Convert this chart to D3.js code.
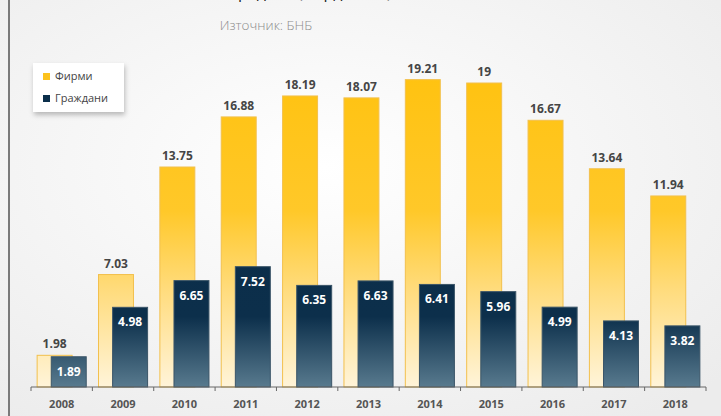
<!DOCTYPE html>
<html>
<head>
<meta charset="utf-8">
<script src="https://cdn.jsdelivr.net/npm/d3@7"></script>
<style>
  html, body { margin: 0; padding: 0; background: #fff; }
  svg { display: block; font-family: "Open Sans", "Noto Sans", sans-serif; }
</style>
</head>
<body>
<svg id="chart" width="721" height="416"></svg>
<script>
const years = ["2008","2009","2010","2011","2012","2013","2014","2015","2016","2017","2018"];
const firms = [1.98, 7.03, 13.75, 16.88, 18.19, 18.07, 19.21, 19, 16.67, 13.64, 11.94];
const citizens = [1.89, 4.98, 6.65, 7.52, 6.35, 6.63, 6.41, 5.96, 4.99, 4.13, 3.82];
const seriesNames = ["Фирми", "Граждани"];
const titleText = "Кредити (млрд. лева)";
const sourceText = "Източник: БНБ";

const W = 721, H = 416;
const svg = d3.select("#chart");
const defs = svg.append("defs");

// background
const bg = defs.append("radialGradient").attr("id", "bgGrad")
  .attr("cx", "45%").attr("cy", "40%").attr("r", "75%");
bg.append("stop").attr("offset", "0%").attr("stop-color", "#ffffff");
bg.append("stop").attr("offset", "100%").attr("stop-color", "#ececec");
svg.append("rect").attr("width", W).attr("height", H).attr("fill", "url(#bgGrad)");
svg.append("line").attr("x1", 9).attr("x2", 9).attr("y1", 0).attr("y2", H)
  .attr("stroke", "#7a7a7a").attr("stroke-width", 2);

const baseY = 387;
const x = d3.scaleBand().domain(years).range([31, 706]).paddingInner(0);
const y = d3.scaleLinear().domain([0, 20]).range([baseY, baseY - 320]);
const bw = x.bandwidth();
const barW = bw * 0.57;

// gradients in user space (tall bars saturate at top)
const gF = defs.append("linearGradient").attr("id", "gFirm")
  .attr("gradientUnits", "userSpaceOnUse")
  .attr("x1", 0).attr("x2", 0).attr("y1", y(20)).attr("y2", baseY);
gF.append("stop").attr("offset", "0%").attr("stop-color", "#ffc20f");
gF.append("stop").attr("offset", "45%").attr("stop-color", "#ffc829");
gF.append("stop").attr("offset", "70%").attr("stop-color", "#ffdc7e");
gF.append("stop").attr("offset", "100%").attr("stop-color", "#fff4d9");

const gC = defs.append("linearGradient").attr("id", "gCit")
  .attr("gradientUnits", "userSpaceOnUse")
  .attr("x1", 0).attr("x2", 0).attr("y1", y(20)).attr("y2", baseY);
gC.append("stop").attr("offset", "0%").attr("stop-color", "#0a2c47");
gC.append("stop").attr("offset", "78%").attr("stop-color", "#0c2f4b");
gC.append("stop").attr("offset", "100%").attr("stop-color", "#587a8e");

const shadow = defs.append("filter").attr("id", "shadow")
  .attr("x", "-20%").attr("y", "-20%").attr("width", "150%").attr("height", "160%");
shadow.append("feDropShadow").attr("dx", 1).attr("dy", 3).attr("stdDeviation", 2.5)
  .attr("flood-color", "#000").attr("flood-opacity", 0.25);

// title (cut off at the top edge, as in the source) and source line
svg.append("text").attr("x", 310).attr("y", -2).attr("text-anchor", "middle")
  .attr("font-size", 16).attr("fill", "#222").text(titleText);
svg.append("text").attr("x", 266).attr("y", 30).attr("text-anchor", "middle")
  .attr("font-size", 13.5).attr("fill", "#8c8c8c").attr("font-weight", 300).text(sourceText);

const g = svg.append("g");

// firm bars
g.selectAll("rect.firm").data(years).enter().append("rect")
  .attr("class", "firm")
  .attr("x", d => x(d) + bw * 0.1)
  .attr("y", (d, i) => y(firms[i]))
  .attr("width", barW)
  .attr("height", (d, i) => baseY - y(firms[i]))
  .attr("fill", "url(#gFirm)")
  .attr("stroke", "#f2c04e").attr("stroke-width", 1);

g.selectAll("text.firmLab").data(years).enter().append("text")
  .attr("class", "firmLab")
  .attr("x", d => x(d) + bw * 0.1 + barW / 2)
  .attr("y", (d, i) => y(firms[i]) - 7)
  .attr("text-anchor", "middle")
  .attr("font-size", 12).attr("font-weight", 700).attr("fill", "#454545")
  .text((d, i) => firms[i]);

// citizen bars
g.selectAll("rect.cit").data(years).enter().append("rect")
  .attr("class", "cit")
  .attr("x", d => x(d) + bw * 0.33)
  .attr("y", (d, i) => y(citizens[i]))
  .attr("width", barW)
  .attr("height", (d, i) => baseY - y(citizens[i]))
  .attr("fill", "url(#gCit)")
  .attr("stroke", "#3b5568").attr("stroke-width", 1);

g.selectAll("text.citLab").data(years).enter().append("text")
  .attr("class", "citLab")
  .attr("x", d => x(d) + bw * 0.33 + barW / 2)
  .attr("y", (d, i) => y(citizens[i]) + 19)
  .attr("text-anchor", "middle")
  .attr("font-size", 12).attr("font-weight", 700).attr("fill", "#ffffff")
  .text((d, i) => citizens[i]);

// x axis with ticks at category boundaries
const axis = svg.append("g").attr("transform", `translate(0,${baseY})`);
axis.append("line").attr("x1", 31).attr("x2", 706).attr("stroke", "#666").attr("stroke-width", 1);
const bounds = years.map(d => x(d)).concat([x(years[years.length - 1]) + bw]);
axis.selectAll("line.tk").data(bounds).enter().append("line")
  .attr("class", "tk")
  .attr("x1", d => d).attr("x2", d => d).attr("y1", 0).attr("y2", 4)
  .attr("stroke", "#666");
axis.selectAll("text").data(years).enter().append("text")
  .attr("x", d => x(d) + bw / 2).attr("y", 21)
  .attr("text-anchor", "middle")
  .attr("font-size", 11).attr("font-weight", 700).attr("fill", "#555")
  .text(d => d);

// legend
const lg = svg.append("g").attr("transform", "translate(33,63)");
lg.append("rect").attr("width", 91).attr("height", 49).attr("fill", "#fff")
  .attr("filter", "url(#shadow)");
const legColors = ["#fcc21d", "#0b2f4b"];
seriesNames.forEach((name, i) => {
  const row = lg.append("g").attr("transform", `translate(10,${13 + i * 22})`);
  row.append("rect").attr("y", -3).attr("width", 7).attr("height", 7).attr("fill", legColors[i]);
  row.append("text").attr("x", 12).attr("y", 4).attr("font-size", 11).attr("fill", "#444").text(name);
});
</script>
</body>
</html>
